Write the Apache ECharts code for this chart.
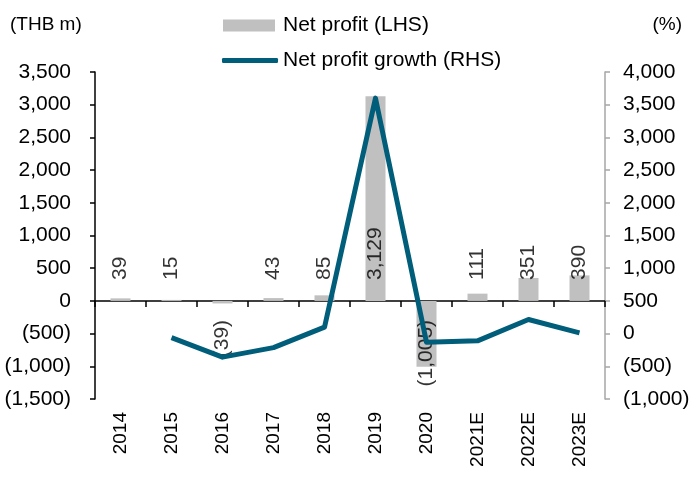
<!DOCTYPE html>
<html>
<head>
<meta charset="utf-8">
<script src="https://cdn.jsdelivr.net/npm/echarts@6/dist/echarts.min.js"></script>
<style>
html,body{margin:0;padding:0;background:#fff;}
#chart{width:694px;height:477px;}
</style>
</head>
<body>
<div id="chart"></div>
<script>
const years = ['2014','2015','2016','2017','2018','2019','2020','2021E','2022E','2023E'];
const netProfit = [39, 15, -39, 43, 85, 3129, -1005, 111, 351, 390];
const netProfitGrowth = [null, -62, -360, -215, 98, 3600, -132, -111, 216, 11];
const leftTicks = {min: -1500, max: 3500, interval: 500};
const rightTicks = {min: -1000, max: 4000, interval: 500};

const FONT = 'Liberation Sans, Arial, sans-serif';
function fmt(v) {
  const s = Math.abs(v).toLocaleString('en-US');
  return v < 0 ? '(' + s + ')' : s;
}

// label anchors sit on the zero line of the left axis, labels read from the value
const labelData = netProfit.map((v, i) => ({
  value: [i, 0],
  label: v >= 0
    ? {position: 'top', distance: 21, align: 'left', verticalAlign: 'middle', formatter: fmt(v)}
    : {position: 'bottom', distance: 19, align: 'right', verticalAlign: 'middle', formatter: fmt(v)}
}));

const chart = echarts.init(document.getElementById('chart'));
chart.setOption({
  animation: false,
  textStyle: {fontFamily: FONT},
  title: [
    {text: '(THB m)', left: 5, top: 10, textStyle: {fontFamily: FONT, fontSize: 19, fontWeight: 'normal', color: '#000'}},
    {text: '(%)', right: 7, top: 10, textStyle: {fontFamily: FONT, fontSize: 19, fontWeight: 'normal', color: '#000'}}
  ],
  legend: [
    {data: ['Net profit (LHS)'], left: 218, top: 10, itemWidth: 52, itemHeight: 12, icon: 'rect',
     textStyle: {fontFamily: FONT, fontSize: 21, color: '#000', padding: [0, 0, 0, 3]}},
    {data: ['Net profit growth (RHS)'], left: 217, top: 45, itemWidth: 56, itemHeight: 5, icon: 'roundRect',
     textStyle: {fontFamily: FONT, fontSize: 21, color: '#000'}}
  ],
  grid: {left: 95, right: 89, top: 72, bottom: 78},
  xAxis: [
    {type: 'category', data: years, position: 'bottom',
     axisLine: {show: false, onZero: false}, axisTick: {show: false},
     axisLabel: {rotate: 90, fontSize: 19, color: '#000', margin: 13, fontFamily: FONT, interval: 0}},
    {type: 'category', data: years, position: 'top',
     axisLine: {show: true, onZero: true, onZeroAxisIndex: 0, lineStyle: {color: '#000', width: 1.5}},
     axisTick: {show: true, inside: true, length: 6, lineStyle: {color: '#000', width: 1.5}},
     axisLabel: {show: false}}
  ],
  yAxis: [
    {type: 'value', min: leftTicks.min, max: leftTicks.max, interval: leftTicks.interval,
     axisLine: {show: true, lineStyle: {color: '#000', width: 1.5}},
     axisTick: {show: true, length: 5, lineStyle: {color: '#000', width: 1.5}},
     splitLine: {show: false},
     axisLabel: {formatter: fmt, fontSize: 21, color: '#000', margin: 24, fontFamily: FONT}},
    {type: 'value', min: rightTicks.min, max: rightTicks.max, interval: rightTicks.interval, position: 'right',
     axisLine: {show: true, onZero: false, lineStyle: {color: '#A6A6A6', width: 1.5}},
     axisTick: {show: true, length: 5, lineStyle: {color: '#A6A6A6', width: 1.5}},
     splitLine: {show: false},
     axisLabel: {formatter: fmt, fontSize: 21, color: '#000', margin: 18, fontFamily: FONT}}
  ],
  series: [
    {name: 'Net profit (LHS)', type: 'bar', xAxisIndex: 0, yAxisIndex: 0, data: netProfit,
     barWidth: 20, itemStyle: {color: '#C0C0C0'}},
    {name: 'labels', type: 'scatter', xAxisIndex: 0, yAxisIndex: 0, data: labelData,
     symbolSize: 0, silent: true, z: 2, legendHoverLink: false,
     label: {show: true, rotate: 90, fontSize: 21, color: '#000', fontFamily: FONT}},
    {name: 'Net profit growth (RHS)', type: 'line', xAxisIndex: 0, yAxisIndex: 1, data: netProfitGrowth,
     symbol: 'none', showSymbol: false, z: 4, connectNulls: false,
     lineStyle: {color: '#005E7A', width: 5, join: 'round'}, itemStyle: {color: '#005E7A'}}
  ]
});
</script>
</body>
</html>
